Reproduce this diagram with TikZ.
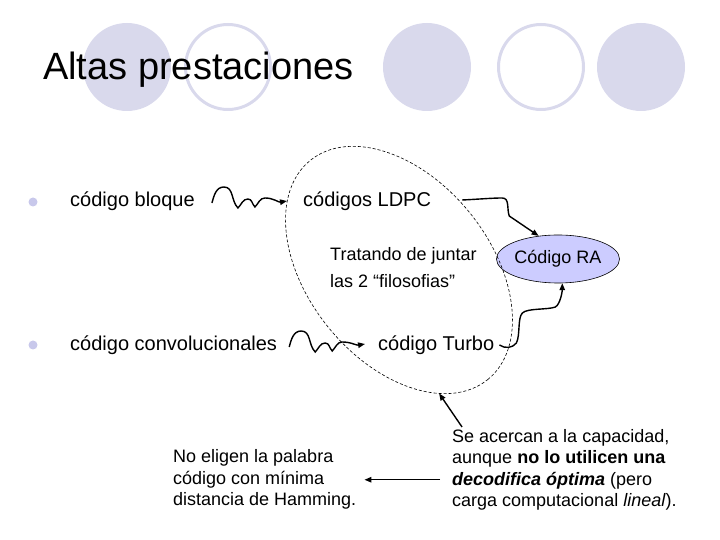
\documentclass[tikz,border=0pt]{standalone}
\usepackage{fontspec}
\setmainfont{Liberation Sans}
\usepackage{tikz}
\usetikzlibrary{arrows.meta, positioning, shapes.geometric, calc}
\definecolor{decocol}{RGB}{217,217,236}
\definecolor{dotcol}{RGB}{200,200,235}
\definecolor{racol}{RGB}{204,204,255}

\begin{document}
\begin{tikzpicture}[
  x=1pt, y=1pt,
  titulo/.style={anchor=base west, inner sep=0pt,
                 font=\fontsize{38}{44}\selectfont},
  txt/.style={anchor=base west, inner sep=0pt,
              font=\fontsize{20}{24}\selectfont},
  note/.style={anchor=base west, inner sep=0pt, align=left,
               font=\fontsize{18}{21.6}\selectfont},
  grupo/.style={ellipse, draw, dashed, dash pattern=on 3pt off 2pt,
                line width=0.6pt, inner sep=0pt, outer sep=0pt,
                minimum width=282pt, minimum height=182pt},
  rabox/.style={ellipse, draw, fill=racol, line width=0.6pt,
                minimum width=112pt, minimum height=48pt, inner sep=0pt,
                font=\fontsize{18}{21.6}\selectfont},
  link/.style={-{Triangle[length=7pt,width=5.5pt]}, line width=1.4pt}
]
  \useasboundingbox (0,0) rectangle (720,540);

  \foreach \cx in {127,427,641}
    \fill[decocol] (\cx,473) circle (44pt);
  \foreach \cx in {228,541}
    \draw[decocol, line width=3pt] (\cx,473) circle (42.5pt);
  \fill[dotcol] (33,338) circle (4.5pt);
  \fill[dotcol] (33,195) circle (4.5pt);

  \node[titulo] (tit) at (43,460) {Altas prestaciones};

  \node[txt] (bloque) at (70,333) {código bloque};
  \node[txt] (ldpc) at (303,333) {códigos LDPC};
  \node[txt] (convol) at (70,189) {código convolucionales};
  \node[txt] (turbo) at (378,189) {código Turbo};
  \node[note, font=\fontsize{18}{27}\selectfont] (juntar) at (330,252)
    {Tratando de juntar\\las 2 “filosofias”};
  \node[rabox] (ra) at (558,281) {Código RA};
  \node[grupo, rotate=-51] (grp) at (399,270) {};
  \node[note] (noeligen) at (173,34)
    {No eligen la palabra\\código con mínima\\distancia de Hamming.};
  \node[note] (acercan) at (452,33)
    {Se acercan a la capacidad,\\aunque \textbf{no lo utilicen una}\\
     \textbf{\textit{decodifica óptima}} (pero\\carga computacional \textit{lineal}).};

  \draw[link] ([xshift=17pt,yshift=4pt]bloque.base east)
    to[out=75,in=180] ++(12,16) to[out=0,in=135] ++(14,-21)
    to[out=45,in=180] ++(10,9) to[out=0,in=135] ++(7,-8)
    to[out=45,in=180] ++(10,9) to[out=0,in=190]
    ([xshift=-16pt,yshift=6pt]ldpc.base west);
  \draw[link] ([xshift=12pt,yshift=4pt]convol.base east)
    to[out=75,in=180] ++(12,16) to[out=0,in=135] ++(14,-21)
    to[out=45,in=180] ++(10,9) to[out=0,in=135] ++(7,-8)
    to[out=45,in=180] ++(10,9) to[out=0,in=190]
    ([xshift=-13pt,yshift=7pt]turbo.base west);
  \draw[link] ([xshift=31pt,yshift=7pt]ldpc.base east)
    .. controls +(20,1) and +(-10,0) .. ++(40,2)
    to[out=0,in=110] ++(7,-18) -- (ra.130);
  \draw[link] ([xshift=5pt,yshift=6pt]turbo.base east)
    .. controls +(6,-4) and +(-4,-5) .. ++(17,2)
    .. controls +(4,8) and +(-5,-5) .. ++(6,30)
    .. controls +(5,5) and +(-8,-3) .. ++(33,6)
    .. controls +(5,3) and +(0,-8) .. (ra.-80);
  \draw[link] ([xshift=10pt,yshift=2pt]acercan.north west) -- (grp.-21);
  \draw[link] ($(noeligen.east -| acercan.west)+(-12,0)$)
    -- ([xshift=8pt]noeligen.east);
\end{tikzpicture}
\end{document}
